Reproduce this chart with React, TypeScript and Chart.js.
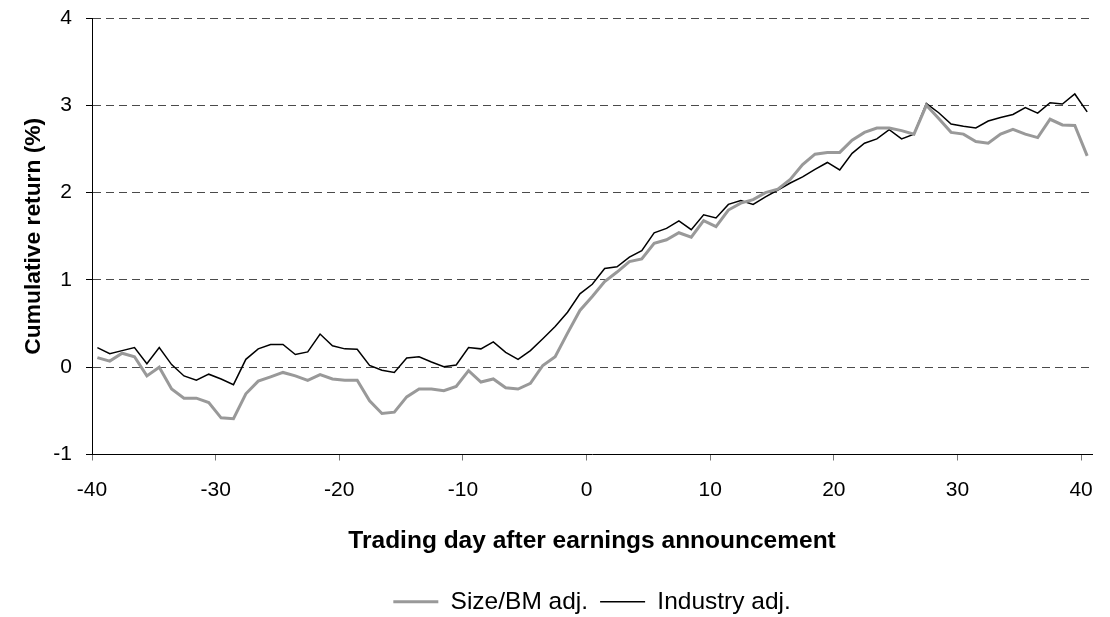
import React, { useEffect, useRef } from "react";
import { Chart, registerables } from "chart.js";

Chart.register(...registerables);

const days: number[] = [
  -40, -39, -38, -37, -36, -35, -34, -33, -32, -31, -30, -29, -28, -27, -26, -25, -24, -23, -22, -21,
  -20, -19, -18, -17, -16, -15, -14, -13, -12, -11, -10, -9, -8, -7, -6, -5, -4, -3, -2, -1,
  0, 1, 2, 3, 4, 5, 6, 7, 8, 9, 10, 11, 12, 13, 14, 15, 16, 17, 18, 19,
  20, 21, 22, 23, 24, 25, 26, 27, 28, 29, 30, 31, 32, 33, 34, 35, 36, 37, 38, 39, 40,
];

const sizeBMAdj: number[] = [
  0.11, 0.07, 0.16, 0.12, -0.1, 0.0, -0.25, -0.355, -0.355, -0.405, -0.58, -0.59, -0.305, -0.16, -0.11, -0.06, -0.1, -0.15, -0.085, -0.135,
  -0.15, -0.15, -0.385, -0.53, -0.515, -0.34, -0.25, -0.25, -0.27, -0.22, -0.04, -0.17, -0.135, -0.235, -0.25, -0.185, 0.02, 0.12, 0.39, 0.65,
  0.81, 0.98, 1.09, 1.21, 1.24, 1.42, 1.46, 1.54, 1.49, 1.68, 1.61, 1.8, 1.88, 1.92, 2.0, 2.04, 2.15, 2.32, 2.44, 2.46,
  2.46, 2.6, 2.69, 2.74, 2.74, 2.71, 2.67, 3.0, 2.85, 2.69, 2.67, 2.585, 2.565, 2.67, 2.725, 2.67, 2.63, 2.84, 2.775, 2.77, 2.42,
];

const industryAdj: number[] = [
  0.225, 0.155, 0.19, 0.225, 0.04, 0.225, 0.03, -0.1, -0.15, -0.08, -0.135, -0.2, 0.09, 0.21, 0.26, 0.26, 0.145, 0.175, 0.38, 0.245,
  0.21, 0.205, 0.02, -0.035, -0.06, 0.105, 0.12, 0.06, 0.005, 0.025, 0.225, 0.21, 0.29, 0.17, 0.09, 0.19, 0.325, 0.465, 0.63, 0.84,
  0.95, 1.13, 1.15, 1.26, 1.335, 1.54, 1.59, 1.675, 1.575, 1.745, 1.71, 1.865, 1.91, 1.865, 1.95, 2.03, 2.11, 2.18, 2.265, 2.345,
  2.26, 2.45, 2.565, 2.615, 2.72, 2.615, 2.67, 3.02, 2.915, 2.785, 2.76, 2.74, 2.82, 2.86, 2.895, 2.975, 2.91, 3.03, 3.015, 3.13, 2.925,
];

const seriesLabels: string[] = ["Size/BM adj.", "Industry adj."];
const xTitle = "Trading day after earnings announcement";
const yTitle = "Cumulative return (%)";

const FONT = "'Liberation Sans', Arial, sans-serif";

export default function App() {
  const canvasRef = useRef<HTMLCanvasElement | null>(null);

  useEffect(() => {
    document.body.style.margin = "0";
    const canvas = canvasRef.current;
    if (!canvas) return;
    const chart = new Chart(canvas, {
      type: "line",
      data: {
        datasets: [
          {
            label: seriesLabels[0],
            data: days.map((d, i) => ({ x: d, y: sizeBMAdj[i] })),
            borderColor: "#999999",
            backgroundColor: "#999999",
            borderWidth: 3,
            pointRadius: 0,
            tension: 0,
            xAxisID: "xData",
          },
          {
            label: seriesLabels[1],
            data: days.map((d, i) => ({ x: d, y: industryAdj[i] })),
            borderColor: "#000000",
            backgroundColor: "#000000",
            borderWidth: 1.5,
            pointRadius: 0,
            tension: 0,
            xAxisID: "xData",
          },
        ],
      },
      options: {
        responsive: false,
        animation: false,
        layout: { padding: { left: 0, right: 14, top: 18, bottom: -7 } },
        plugins: {
          tooltip: { enabled: false },
          legend: {
            position: "bottom",
            fullSize: false,
            labels: {
              usePointStyle: true,
              pointStyle: "line",
              pointStyleWidth: 45,
              padding: 12,
              color: "#000",
              font: { family: FONT, size: 24.5 },
            },
          },
        },
        scales: {
          xData: {
            type: "linear",
            display: false,
            min: -40.435,
            max: 40.4,
          },
          x: {
            type: "linear",
            position: "bottom",
            min: -40,
            max: 40.89,
            afterFit: (scale: any) => {
              scale.height = 123;
            },
            border: { display: true, color: "#000", width: 1 },
            grid: {
              drawOnChartArea: false,
              drawTicks: true,
              tickLength: 6,
              tickColor: "#777",
              tickWidth: 1,
            },
            ticks: {
              stepSize: 10,
              includeBounds: false,
              autoSkip: false,
              maxRotation: 0,
              padding: 17,
              color: "#000",
              font: { family: FONT, size: 21 },
            },
            title: {
              display: true,
              text: xTitle,
              color: "#000",
              font: { family: FONT, size: 24.5, weight: "bold" },
              padding: { top: 0, bottom: 22 },
            },
          },
          y: {
            type: "linear",
            min: -1,
            max: 4,
            afterFit: (scale: any) => {
              scale.width = 92;
              scale.paddingTop = 0;
              scale.paddingBottom = 0;
            },
            border: { display: true, color: "#000", width: 1, dash: [8, 5] },
            grid: {
              color: (ctx: any) => (ctx.tick && ctx.tick.value === -1 ? "rgba(0,0,0,0)" : "#4a4a4a"),
              lineWidth: 1,
              drawTicks: true,
              tickLength: 6,
              tickColor: "#000",
              tickBorderDash: [],
            },
            ticks: {
              stepSize: 1,
              padding: 14,
              color: "#000",
              font: { family: FONT, size: 21 },
            },
            title: {
              display: true,
              text: yTitle,
              color: "#000",
              font: { family: FONT, size: 22.8, weight: "bold" },
              padding: { top: 20, bottom: 0 },
            },
          },
        },
      },
    } as any);
    return () => chart.destroy();
  }, []);

  return (
    <div style={{ width: 1110, height: 617, background: "#fff" }}>
      <canvas ref={canvasRef} width={1110} height={617} />
    </div>
  );
}
